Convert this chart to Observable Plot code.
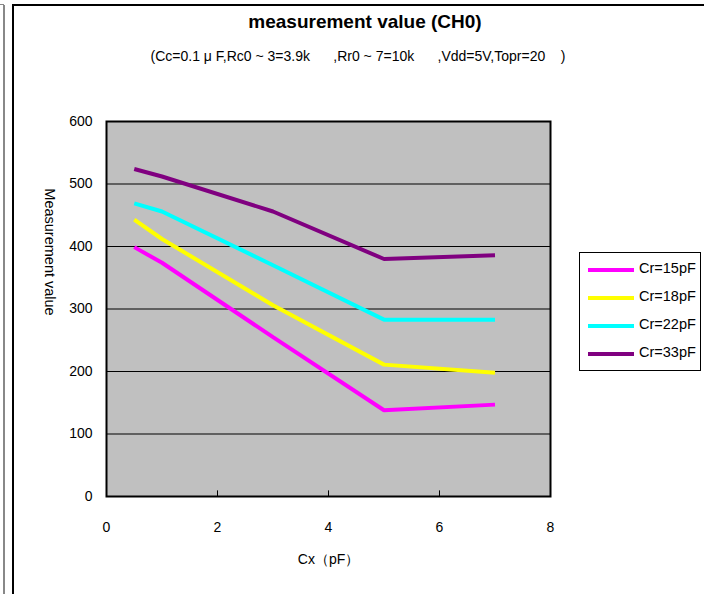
<!DOCTYPE html>
<html>
<head>
<meta charset="utf-8">
<script src="https://cdn.jsdelivr.net/npm/d3@7"></script>
<script src="https://cdn.jsdelivr.net/npm/@observablehq/plot@0.6"></script>
<style>
  body { margin: 0; background: #fff; font-family: "Liberation Sans", Arial, sans-serif; }
  #wrap { position: relative; width: 704px; height: 594px; overflow: hidden; }
  #head { position: absolute; left: 0; top: 0; width: 704px; height: 80px; }
  #title { position: absolute; left: 0; width: 730px; top: 11px; text-align: center; font-size: 19px; font-weight: bold; }
  #subtitle { position: absolute; left: 0; width: 716px; top: 48px; text-align: center; font-size: 14px; white-space: pre; }
  #chart { position: absolute; left: 0; top: 80px; }
  #ylab { position: absolute; left: 50px; top: 252px; font-size: 14.5px; transform: translate(-50%, -50%) rotate(90deg); white-space: nowrap; }
  #legend { position: absolute; left: 579px; top: 252px; width: 122px; height: 119px; border: 1px solid #000; box-sizing: border-box; background: #fff; }
  .item { position: absolute; left: 8px; height: 18px; font-size: 14.5px; }
  .sw { position: absolute; left: 0; top: 7px; width: 46px; height: 4px; }
  .lt { position: absolute; left: 51px; top: -1px; white-space: nowrap; }
  .fr { position: absolute; }
</style>
</head>
<body>
<div id="wrap">
  <div class="fr" style="left:3px; top:5px; width:2px; height:600px; background:#888;"></div>
  <div class="fr" style="left:0px; top:4px; width:4px; height:1px; background:#888;"></div>
  <div class="fr" style="left:12px; top:4px; width:692px; height:2px; background:#000;"></div>
  <div class="fr" style="left:12px; top:4px; width:2px; height:600px; background:#000;"></div>
  <div id="head">
    <div id="title"></div>
    <div id="subtitle"></div>
  </div>
  <div id="chart"></div>
  <div id="ylab"></div>
  <div id="legend"></div>
</div>
<script>
const titleText = "measurement value (CH0)";
const subtitleText = "(Cc=0.1 μ F,Rc0 ~ 3=3.9k      ,Rr0 ~ 7=10k      ,Vdd=5V,Topr=20    )";
const xLabel = "Cx（pF）";
const yLabel = "Measurement value";
const cx = [0.5, 1, 3, 5, 7];
const seriesNames = ["Cr=15pF", "Cr=18pF", "Cr=22pF", "Cr=33pF"];
const cr15 = [399, 374, 255, 138, 147];
const cr18 = [443, 412, 306, 211, 198];
const cr22 = [469, 456, 370, 283, 283];
const cr33 = [524, 512, 456, 380, 386];
const seriesColors = ["#FF00FF", "#FFFF00", "#00FFFF", "#800080"];
const yTicks = [0, 100, 200, 300, 400, 500, 600];
const xTicks = [0, 2, 4, 6, 8];
const gridValues = [100, 200, 300, 400, 500];

const allSeries = [cr15, cr18, cr22, cr33];
const data = [];
allSeries.forEach((vals, i) => vals.forEach((v, j) => data.push({cx: cx[j], value: v, series: seriesNames[i]})));

document.getElementById("title").textContent = titleText;
document.getElementById("subtitle").textContent = subtitleText;
document.getElementById("ylab").textContent = yLabel;

const chart = Plot.plot({
  width: 704,
  height: 514,
  marginTop: 41,
  marginBottom: 98,
  marginLeft: 106,
  marginRight: 154,
  style: {fontFamily: "Liberation Sans, Arial, sans-serif", fontSize: "14px", color: "#000", background: "transparent"},
  x: {domain: [0, 8], ticks: xTicks, label: null},
  y: {domain: [0, 600], ticks: yTicks, label: null},
  color: {domain: seriesNames, range: seriesColors},
  marks: [
    Plot.frame({fill: "#C0C0C0", stroke: null}),
    Plot.ruleY(gridValues, {stroke: "#000", strokeWidth: 1}),
    Plot.ruleX(xTicks.slice(1, -1), {y1: 0, y2: 9, stroke: "#000"}),
    Plot.line(data, {x: "cx", y: "value", z: "series", stroke: "series", strokeWidth: 4, strokeLinejoin: "miter", strokeLinecap: "butt"}),
    Plot.frame({stroke: "#000", strokeWidth: 2}),
    Plot.axisY({ticks: yTicks, tickSize: 0, tickPadding: 14, label: null, fontSize: 14}),
    Plot.axisX({ticks: xTicks, tickSize: 0, tickPadding: 26, label: null, fontSize: 14}),
    Plot.text([xLabel], {frameAnchor: "bottom", dy: 67, fontSize: 14})
  ]
});
document.getElementById("chart").appendChild(chart);

const legend = document.getElementById("legend");
seriesNames.forEach((name, i) => {
  const item = document.createElement("div");
  item.className = "item";
  item.style.top = (8 + i * 28) + "px";
  const sw = document.createElement("div");
  sw.className = "sw";
  sw.style.background = seriesColors[i];
  const lt = document.createElement("div");
  lt.className = "lt";
  lt.textContent = name;
  item.appendChild(sw);
  item.appendChild(lt);
  legend.appendChild(item);
});
</script>
</body>
</html>
